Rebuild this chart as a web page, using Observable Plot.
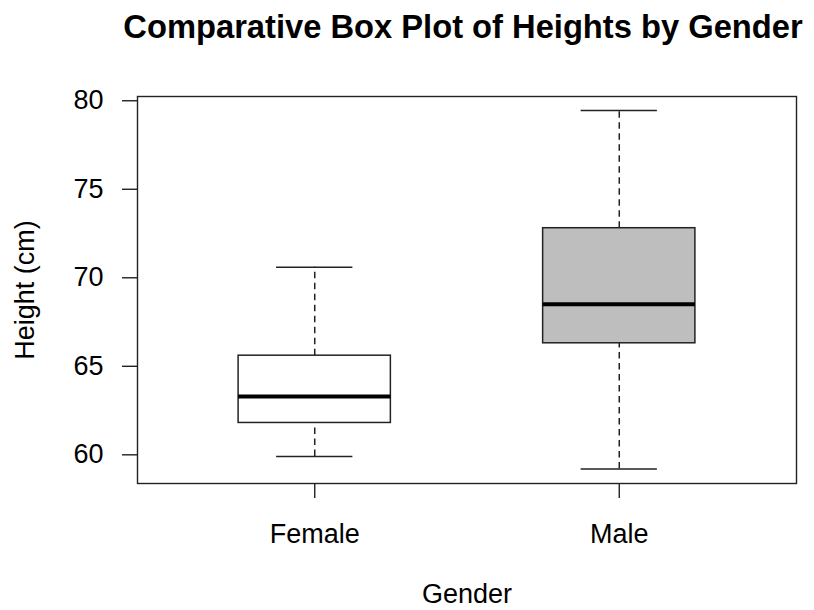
<!DOCTYPE html>
<html>
<head>
<meta charset="utf-8">
<script src="https://cdn.jsdelivr.net/npm/d3@7"></script>
<script src="https://cdn.jsdelivr.net/npm/@observablehq/plot@0.6"></script>
<style>
  html, body { margin: 0; padding: 0; background: white; }
  #wrap { position: relative; width: 814px; height: 610px; font-family: "Liberation Sans", Arial, sans-serif; }
  #title { position: absolute; left: 463px; top: 11px; transform: translateX(-50%); white-space: nowrap;
           font-size: 32.7px; line-height: 32px; font-weight: bold; color: black; }
  #chart { position: absolute; left: 0; top: 70px; }
</style>
</head>
<body>
<div id="wrap">
  <div id="title">Comparative Box Plot of Heights by Gender</div>
  <div id="chart"></div>
</div>
<script>
// Data
const genders     = ["Female", "Male"];
const whiskerLow  = [59.9, 59.2];
const q1          = [61.8, 66.3];
const medians     = [63.3, 68.5];
const q3          = [65.6, 72.8];
const whiskerHigh = [70.6, 79.45];
const yTicks      = [60, 65, 70, 75, 80];

const data = genders.map((g, i) => ({
  gender: g, lo: whiskerLow[i], q1: q1[i], med: medians[i], q3: q3[i], hi: whiskerHigh[i]
}));

const plot = Plot.plot({
  width: 814,
  height: 540,
  marginLeft: 137,
  marginRight: 18,
  marginTop: 26,
  marginBottom: 127,
  style: { fontFamily: "'Liberation Sans', Arial, sans-serif", fontSize: "27px", background: "white", color: "black" },
  x: { type: "band", domain: genders, paddingInner: 0.5, paddingOuter: 0.332, round: false, label: null },
  y: { domain: [58.38, 80.24], label: null },
  color: { type: "ordinal", domain: genders, range: ["white", "#bebebe"] },
  marks: [
    // whiskers (dashed)
    Plot.ruleX(data, { x: "gender", y1: "q3", y2: "hi", stroke: "#222", strokeWidth: 1.5, strokeDasharray: "6.5,4.5" }),
    Plot.ruleX(data, { x: "gender", y1: "lo", y2: "q1", stroke: "#222", strokeWidth: 1.5, strokeDasharray: "6.5,4.5" }),
    // staples
    Plot.tickY(data, { x: "gender", y: "hi", stroke: "#222", strokeWidth: 1.5, insetLeft: 38, insetRight: 38 }),
    Plot.tickY(data, { x: "gender", y: "lo", stroke: "#222", strokeWidth: 1.5, insetLeft: 38, insetRight: 38 }),
    // boxes
    Plot.barY(data, { x: "gender", y1: "q1", y2: "q3", fill: "gender", stroke: "#222", strokeWidth: 1.5 }),
    // medians
    Plot.tickY(data, { x: "gender", y: "med", stroke: "black", strokeWidth: 4 }),
    Plot.frame({ stroke: "#222", strokeWidth: 1.4 }),
    Plot.axisY({ ticks: yTicks, tickSize: 15, tickPadding: 19, tickFormat: d => String(d), label: null, stroke: "#222", strokeWidth: 1.4 }),
    Plot.axisX({ tickSize: 15, tickPadding: 25, label: null, stroke: "#222", strokeWidth: 1.4 }),
    Plot.text(["Height (cm)"], { frameAnchor: "left", dx: -112, rotate: -90, textAnchor: "middle", lineAnchor: "middle", fontSize: 27 }),
    Plot.text(["Gender"], { frameAnchor: "bottom", dy: 111, textAnchor: "middle", lineAnchor: "middle", fontSize: 27 })
  ]
});
document.getElementById("chart").appendChild(plot);
</script>
</body>
</html>
